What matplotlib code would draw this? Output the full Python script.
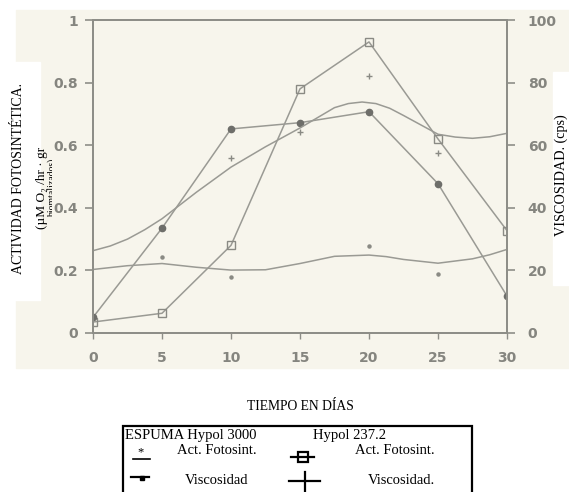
import matplotlib
matplotlib.use("Agg")
import matplotlib.pyplot as plt
from matplotlib.patches import Rectangle
from matplotlib.lines import Line2D
from matplotlib.transforms import Bbox

W, H = 569, 492

# days sampled
days = [0, 5, 10, 15, 20, 25, 30]
# photosynthetic activity, connected series
act_hypol237 = [0.035, 0.063, 0.28, 0.78, 0.93, 0.62, 0.327]   # squares
act_espuma = [0.05, 0.335, 0.652, 0.672, 0.707, 0.477, 0.118]  # dots

# smooth viscosity curves (cps)
visc_up_days = [0, 1.25, 2.5, 3.75, 5, 7.5, 10, 12.5, 15, 17.5, 18.5, 19.5, 20.5,
                21.5, 22.5, 23.75, 25, 26.25, 27.5, 28.75, 30]
visc_up = [26.3, 27.8, 30.0, 33.0, 36.5, 45.0, 53.0, 59.5, 65.5, 72.0, 73.3, 73.8, 73.3,
           71.8, 69.5, 66.5, 63.5, 62.6, 62.2, 62.7, 63.8]
visc_low_days = [0, 2.5, 5, 7.5, 10, 12.5, 15, 17.5, 20, 21.25, 22.5, 25, 27.5, 28.75, 30]
visc_low = [20.3, 21.5, 22.2, 21.0, 20.1, 20.2, 22.2, 24.5, 24.9, 24.4, 23.5, 22.3, 23.7,
            25.0, 26.7]

# loose measured points (cps)
pts_up_days = [10, 15, 20, 25]
pts_up = [56.0, 64.3, 82.0, 57.6]
pts_low_days = [5, 10, 20, 25]
pts_low = [24.2, 18.0, 27.8, 18.8]

left_ticks = [0, 0.2, 0.4, 0.6, 0.8, 1]
left_labels = ["0", "0.2", "0.4", "0.6", "0.8", "1"]
right_ticks = [0, 20, 40, 60, 80, 100]

scan = "#f7f5ec"
ink = "#8e8e88"
line_c = "#9a9a94"
tick_font = dict(family="DejaVu Sans", weight="bold", size=10, color="#85857f")
serif = ["Liberation Serif", "DejaVu Serif"]


def fx(px):
    return px / W


def fy(py):
    return 1 - py / H


fig = plt.figure(figsize=(W / 100, H / 100), dpi=100)
fig.patch.set_facecolor("white")

# scanned page background and the white label boxes pasted over it
fig.patches.append(Rectangle((fx(16), fy(368)), fx(569 - 16), (368 - 10) / H,
                             transform=fig.transFigure, color=scan, zorder=-2))
fig.patches.append(Rectangle((0, fy(300)), fx(40), (300 - 62) / H,
                             transform=fig.transFigure, color="white", zorder=-1))
fig.patches.append(Rectangle((fx(553), fy(285)), fx(16), (285 - 72) / H,
                             transform=fig.transFigure, color="white", zorder=-1))

ax = fig.add_axes([fx(93), fy(333), fx(507 - 93), (333 - 20) / H])
ax.set_facecolor("none")
ax.set_xlim(0, 30)
ax.set_ylim(0, 1)
ax2 = ax.twinx()
ax2.set_ylim(0, 100)
ax.set_zorder(2)
ax2.set_zorder(3)

ax.plot(days, act_hypol237, color=line_c, lw=1.1, marker="s", ms=6,
        mfc="none", mec="#8a8a84", mew=1.0)
ax.plot(days, act_espuma, color=line_c, lw=1.1, marker="o", ms=4.5,
        mfc="#6e6e6a", mec="#6e6e6a")
ax2.plot(visc_up_days, visc_up, color=line_c, lw=1.1)
ax2.plot(visc_low_days, visc_low, color=line_c, lw=1.1)
ax2.plot(pts_up_days, pts_up, ls="none", marker="+", ms=4, color="#8a8a84", mew=1)
ax2.plot(pts_low_days, pts_low, ls="none", marker="o", ms=2.2, color="#8a8a84")

for a in (ax, ax2):
    for s in a.spines.values():
        s.set_color(ink)
        s.set_linewidth(1.3)

ax.set_xticks(days)
ax.set_yticks(left_ticks)
ax.set_yticklabels(left_labels)
ax2.set_yticks(right_ticks)
ax.tick_params(axis="x", length=4, width=1, color=ink, pad=9)
ax.tick_params(axis="y", length=6, width=1.2, color=ink, pad=5)
ax2.tick_params(axis="y", length=6, width=1.2, color=ink, pad=9)
for lab in ax.get_xticklabels() + ax.get_yticklabels() + ax2.get_yticklabels():
    lab.set(**tick_font)

# axis titles pasted on the scan
fig.text(fx(19), fy(178), "ACTIVIDAD FOTOSINTÉTICA.", rotation=90, ha="center",
         va="center", family=serif, size=10)
fig.text(fx(42), fy(188), "(µM O₂ /hr · gr", rotation=90, ha="center",
         va="center", family=serif, size=9.6)
t3 = fig.text(fx(52), fy(188), "biomtalizados)", rotation=90, ha="center",
              va="center", family=serif, size=7)
t3.set_clip_box(Bbox.from_extents(0, 0, 52, H))
t3.set_clip_on(True)
fig.text(fx(561), fy(175), "VISCOSIDAD. (cps)", rotation=90, ha="center",
         va="center", family=serif, size=10.2)
fig.text(fx(300), fy(407), "TIEMPO EN DÍAS", ha="center", va="center",
         family=serif, size=9.8)

# hand-made legend box at the bottom
fig.patches.append(Rectangle((fx(123), fy(494)), fx(472 - 123), (494 - 426) / H,
                             transform=fig.transFigure, fill=False, ec="black",
                             lw=1.6, zorder=3))
leg = dict(family=serif, size=10.5, va="center", ha="left")
fig.text(fx(125), fy(436), "ESPUMA Hypol 3000", **leg)
fig.text(fx(313), fy(436), "Hypol 237.2", **leg)
fig.text(fx(177), fy(451), "Act. Fotosint.", **leg)
fig.text(fx(355), fy(451), "Act. Fotosint.", **leg)
fig.text(fx(185), fy(480), "Viscosidad", **leg)
fig.text(fx(368), fy(480), "Viscosidad.", **leg)

fig.lines.append(Line2D([fx(133), fx(150)], [fy(459), fy(459)], transform=fig.transFigure,
                        color="black", lw=1.2))
fig.text(fx(141), fy(452), "*", ha="center", va="center", family=serif, size=9)
fig.lines.append(Line2D([fx(291), fx(314)], [fy(457), fy(457)], transform=fig.transFigure,
                        color="black", lw=1.6))
fig.lines.append(Line2D([fx(302.5)], [fy(457)], transform=fig.transFigure, ls="none",
                        marker="s", ms=6.5, mfc="none", mec="black", mew=1.6))
fig.lines.append(Line2D([fx(131), fx(149)], [fy(477), fy(477)], transform=fig.transFigure,
                        color="black", lw=1.6))
fig.lines.append(Line2D([fx(142)], [fy(478)], transform=fig.transFigure, ls="none",
                        marker="s", ms=2.5, color="black"))
fig.lines.append(Line2D([fx(289), fx(320)], [fy(481), fy(481)], transform=fig.transFigure,
                        color="black", lw=1.6))
fig.lines.append(Line2D([fx(305), fx(305)], [fy(472), fy(492)], transform=fig.transFigure,
                        color="black", lw=1.6))

fig.savefig("out.png", dpi=100)
